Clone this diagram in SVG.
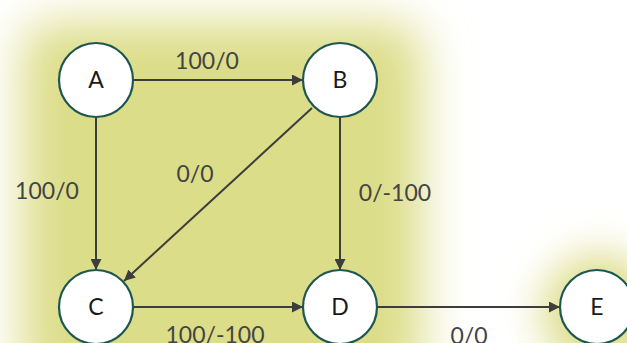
<svg xmlns="http://www.w3.org/2000/svg" width="627" height="343" viewBox="0 0 627 343">
  <defs>
    <filter id="glow" x="-30%" y="-30%" width="160%" height="160%">
      <feGaussianBlur stdDeviation="24"/>
    </filter>
    <filter id="glowE" x="-100%" y="-100%" width="300%" height="300%">
      <feGaussianBlur stdDeviation="20"/>
    </filter>
    <marker id="arr" viewBox="0 0 10 10" refX="10" refY="5" markerWidth="5.5" markerHeight="5.5" orient="auto" markerUnits="strokeWidth">
      <path d="M0,0 L10,5 L0,10 z" fill="#3d3d3d"/>
    </marker>
    <style>
      .edge { stroke: #3d3d3d; stroke-width: 2; fill: none; marker-end: url(#arr); }
      .node circle { fill: #ffffff; stroke: #1e5752; stroke-width: 2.2; }
      .node text { font-family: Lato, "Liberation Sans", sans-serif; font-size: 23px; fill: #1a1a1a; text-anchor: middle; }
      .lbl { font-family: Lato, "Liberation Sans", sans-serif; font-size: 23px; fill: #444444; text-anchor: middle; }
    </style>
  </defs>
  <rect width="627" height="343" fill="#ffffff"/>
  <g id="background">
    <rect x="22" y="22" width="400" height="370" rx="30" fill="#dcdd88" filter="url(#glow)"/>
    <circle cx="600" cy="312" r="58" fill="#dcdd88" filter="url(#glowE)"/>
  </g>
  <g id="connectors">
    <line class="edge" x1="133" y1="80" x2="303" y2="80"/>
    <line class="edge" x1="96" y1="117" x2="96" y2="270"/>
    <line class="edge" x1="312" y1="108" x2="124" y2="281"/>
    <line class="edge" x1="340" y1="117" x2="340" y2="270"/>
    <line class="edge" x1="133" y1="307" x2="303" y2="307"/>
    <line class="edge" x1="377" y1="307" x2="560" y2="307"/>
    <text class="lbl" x="207" y="69">100/0</text>
    <text class="lbl" x="47" y="199">100/0</text>
    <text class="lbl" x="195" y="182">0/0</text>
    <text class="lbl" x="395" y="201">0/-100</text>
    <text class="lbl" x="215" y="343">100/-100</text>
    <text class="lbl" x="469" y="344">0/0</text>
  </g>
  <g id="node-A" class="node"><circle cx="96" cy="80" r="37"/><text x="96" y="88">A</text></g>
  <g id="node-B" class="node"><circle cx="340" cy="80" r="37"/><text x="340" y="88">B</text></g>
  <g id="node-C" class="node"><circle cx="96" cy="307" r="37"/><text x="96" y="315">C</text></g>
  <g id="node-D" class="node"><circle cx="340" cy="307" r="37"/><text x="340" y="315">D</text></g>
  <g id="node-E" class="node"><circle cx="597" cy="307" r="37"/><text x="597" y="315">E</text></g>
</svg>
